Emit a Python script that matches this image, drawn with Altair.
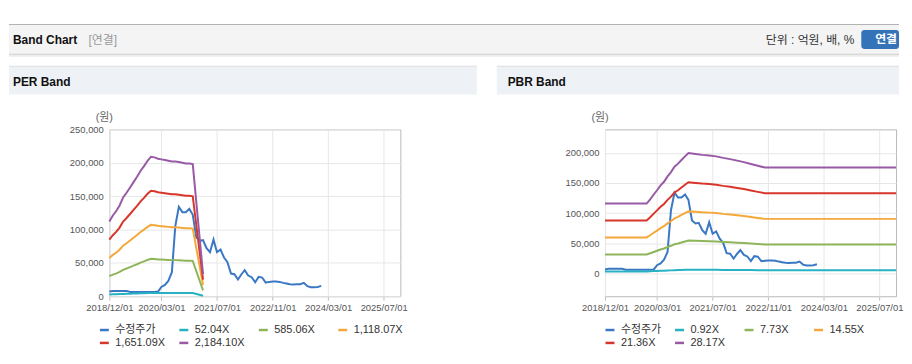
import altair as alt
import pandas as pd

FONT = "Liberation Sans, Noto Sans CJK KR, sans-serif"

# ---------------- data ----------------
price_dates = [
    "2018/12/01",
    "2019/01/01", "2019/02/01", "2019/03/01", "2019/04/01", "2019/05/01", "2019/06/01",
    "2019/07/01", "2019/08/01", "2019/09/01", "2019/10/01", "2019/11/01", "2019/12/01",
    "2020/01/01", "2020/02/01", "2020/03/01", "2020/04/01", "2020/05/01", "2020/06/01",
    "2020/07/01", "2020/08/01", "2020/09/01", "2020/10/01", "2020/11/01", "2020/12/01",
    "2021/01/01", "2021/02/01", "2021/03/01", "2021/04/01", "2021/05/01", "2021/06/01",
    "2021/07/01", "2021/08/01", "2021/09/01", "2021/10/01", "2021/11/01", "2021/12/01",
    "2022/01/01", "2022/02/01", "2022/03/01", "2022/04/01", "2022/05/01", "2022/06/01",
    "2022/07/01", "2022/08/01", "2022/09/01", "2022/10/01", "2022/11/01", "2022/12/01",
    "2023/01/01", "2023/02/01", "2023/03/01", "2023/04/01", "2023/05/01", "2023/06/01",
    "2023/07/01", "2023/08/01", "2023/09/01", "2023/10/01", "2023/11/01", "2023/12/01",
    "2024/01/01",
]
price = [
    7000, 8000, 8000, 8000, 8000, 8000, 6500, 6500, 6500, 6500, 6500, 6500, 6500, 6500, 7000,
    14000, 17000, 23000, 36000, 105000, 134000, 126000, 126000, 131000, 122000,
    88000, 83000, 84000, 72000, 66000, 85000, 66000, 70000, 58000, 51000, 34000, 33000,
    25000, 33000, 39000, 31000, 28500, 21000, 29000, 28000, 20500, 21500, 22000, 22000,
    21500, 20000, 19000, 18000, 17500, 18000, 18000, 20000, 15000, 13500, 13500, 14000, 15500,
]

per_dates = [
    "2018/12/01",
    "2019/01/01", "2019/02/01", "2019/03/01", "2019/04/01", "2019/05/01", "2019/06/01",
    "2019/07/01", "2019/08/01", "2019/09/01", "2019/10/01", "2019/11/01", "2019/12/01",
    "2020/01/01", "2020/02/01", "2020/03/01", "2020/04/01", "2020/05/01", "2020/06/01",
    "2020/07/01", "2020/08/01", "2020/09/01", "2020/10/01", "2020/11/01", "2020/12/01",
    "2021/03/01",
]
per_b1 = [2669, 2883, 3050, 3240, 3526, 3693, 3884, 4074, 4265, 4479, 4646, 4837, 4980,
          4956, 4908, 4885, 4861, 4837, 4813, 4813, 4789, 4765, 4742, 4742, 4718, 786]
per_b2 = [30002, 32413, 34288, 36431, 39645, 41520, 43663, 45806, 47949, 50360, 52235, 54378, 55985,
          55717, 55182, 54914, 54646, 54378, 54110, 54110, 53842, 53574, 53307, 53307, 53039, 8840]
per_b3 = [57334, 61942, 65525, 69620, 75763, 79347, 83442, 87537, 91633, 96240, 99823, 103919, 106990,
          106478, 105454, 104942, 104430, 103919, 103407, 103407, 102895, 102383, 101871, 101871, 101359, 16893]
per_b4 = [84667, 91471, 96763, 102810, 111882, 117174, 123221, 129269, 135317, 142120, 147412, 153460, 157995,
          157239, 155728, 154972, 154216, 153460, 152704, 152704, 151948, 151192, 150436, 150436, 149680, 24947]
per_b5 = [112000, 121000, 128000, 136000, 148000, 155000, 163000, 171000, 179000, 188000, 195000, 203000, 209000,
          208000, 206000, 205000, 204000, 203000, 202000, 202000, 201000, 200000, 199000, 199000, 198000, 33000]

pbr_dates = [
    "2018/12/01", "2019/12/01",
    "2020/01/01", "2020/02/01", "2020/03/01", "2020/04/01", "2020/05/01", "2020/06/01",
    "2020/07/01", "2020/08/01", "2020/09/01", "2020/10/01", "2020/11/01", "2020/12/01",
    "2021/02/01", "2021/04/01", "2021/06/01", "2021/08/01", "2021/10/01", "2021/12/01",
    "2022/02/01", "2022/04/01", "2022/06/01", "2022/08/01", "2022/10/01", "2025/11/24",
]
pbr_b1 = [3788, 3788, 4017, 4278, 4507, 4768, 4964, 5258, 5487, 5781, 5944, 6140, 6336, 6515,
          6467, 6417, 6385, 6336, 6254, 6189, 6107, 6026, 5928, 5830, 5732, 5732]
pbr_b2 = [31831, 31831, 33752, 35947, 37868, 40063, 41710, 44179, 46100, 48570, 49942, 51588, 53235, 54744,
          54332, 53921, 53646, 53235, 52549, 52000, 51314, 50628, 49805, 48981, 48158, 48158]
pbr_b3 = [59915, 59915, 63530, 67662, 71278, 75410, 78509, 83158, 86773, 91422, 94004, 97103, 100202, 103043,
          102268, 101494, 100977, 100202, 98911, 97878, 96587, 95296, 93746, 92197, 90647, 90647]
pbr_b4 = [87957, 87957, 93265, 99331, 104639, 110705, 115255, 122079, 127387, 134211, 138002, 142552, 147101, 151272,
          150134, 148997, 148239, 147101, 145206, 143689, 141794, 139898, 137623, 135348, 133074, 133074]
pbr_b5 = [116000, 116000, 123000, 131000, 138000, 146000, 152000, 161000, 168000, 177000, 182000, 188000, 194000, 199500,
          198000, 196500, 195500, 194000, 191500, 189500, 187000, 184500, 181500, 178500, 175500, 175500]

per_labels = ["수정주가", "52.04X", "585.06X", "1,118.07X", "1,651.09X", "2,184.10X"]
pbr_labels = ["수정주가", "0.92X", "7.73X", "14.55X", "21.36X", "28.17X"]
colors = ["#3a78c4", "#27b2c4", "#8fb55a", "#f5a83a", "#d8352b", "#985aa5"]

x_ticks = [(2018, 12), (2020, 3), (2021, 7), (2022, 11), (2024, 3), (2025, 7)]
per_yticks = [0, 50000, 100000, 150000, 200000, 250000]
pbr_yticks = [0, 50000, 100000, 150000, 200000]


def long_df(band_dates, bands, labels):
    rows = [{"date": d, "value": v, "series": labels[0]} for d, v in zip(price_dates, price)]
    for lab, b in zip(labels[1:], bands):
        rows += [{"date": d, "value": v, "series": lab} for d, v in zip(band_dates, b)]
    return pd.DataFrame(rows)


per_df = long_df(per_dates, [per_b1, per_b2, per_b3, per_b4, per_b5], per_labels)
pbr_df = long_df(pbr_dates, [pbr_b1, pbr_b2, pbr_b3, pbr_b4, pbr_b5], pbr_labels)

# ---------------- helpers ----------------
W, H = 293, 168
one = pd.DataFrame({"k": [0]})


def box(x, x2, y, y2, fill, opacity=1, radius=0):
    return alt.Chart(one).mark_rect(fill=fill, opacity=opacity, cornerRadius=radius).encode(
        x=alt.value(x), x2=alt.value(x2), y=alt.value(y), y2=alt.value(y2))


def label(x, y, text, size, color, weight="normal", align="left"):
    return alt.Chart(one).mark_text(
        text=text, fontSize=size, color=color, fontWeight=weight, align=align,
        baseline="middle", font=FONT).encode(x=alt.value(x), y=alt.value(y))


def lines(df, labels, ydomain, yticks, legend_x):
    xaxis = alt.Axis(
        values=[alt.DateTime(year=y, month=m, date=1) for y, m in x_ticks],
        format="%Y/%m/%d", title=None, labelFont=FONT, labelFontSize=9.5, labelColor="#555",
        tickSize=4, tickColor="#c0c0c0", domain=False, grid=True, gridColor="#e7e7e7",
        labelPadding=2, labelFlush=False, labelOverlap=False)
    yaxis = alt.Axis(
        values=yticks, format=",d", title=None, labelFont=FONT, labelFontSize=9.5, labelColor="#555",
        tickSize=0, domain=False, grid=True, gridColor="#e7e7e7", labelPadding=6, labelOverlap=False)
    return alt.Chart(df).mark_line(strokeWidth=2).encode(
        x=alt.X("date:T", axis=xaxis, scale=alt.Scale(
            domain=[alt.DateTime(year=2018, month=12, date=1), alt.DateTime(year=2025, month=11, date=24)])),
        y=alt.Y("value:Q", axis=yaxis, scale=alt.Scale(domain=ydomain, nice=False, zero=False)),
        color=alt.Color("series:N", sort=labels, scale=alt.Scale(domain=labels, range=colors),
                        legend=alt.Legend(
                            title=None, orient="none", legendX=legend_x, legendY=196,
                            direction="horizontal", columns=4, gridAlign="all",
                            symbolType="stroke", symbolSize=81, symbolStrokeWidth=2.5,
                            labelFont=FONT, labelFontSize=11, labelColor="#333",
                            labelOffset=5, columnPadding=8, rowPadding=2, padding=0,
                            labelLimit=200)),
    )


# ---------------- left panel (plot origin at page 109,128) ----------------
left_decor = [
    box(-101, 795, -120, 228, "white", opacity=0),          # overall extent
    box(-101, 795, -106, -105, "#b3b3b3"),
    box(-101, 795, -105, -76, "#f4f4f4"),
    box(-101, 795, -76, -75, "#c4c4c4"),
    box(-101, 795, -75, -73, "#ececec"),
    label(-97, -89.5, "Band Chart", 12, "#111", "bold"),
    label(-21, -89.5, "[연결]", 12, "#999"),
    label(750, -89.5, "단위 : 억원, 배, %", 12, "#333", align="right"),
    box(757, 795, -100, -81, "#3573b9", radius=3),
    label(782, -90.5, "연결", 12, "white", "bold", align="center"),
    box(-101, 370, -64, -63, "#d6d6d6"),
    box(-101, 370, -63, -35, "#eef2f7"),
    label(-97, -47.5, "PER Band", 12, "#111", "bold"),
    label(-5, -11, "(원)", 11, "#666", align="center"),
]
left = alt.layer(*left_decor, lines(per_df, per_labels, [0, 250000], per_yticks, -11)).properties(
    width=W, height=H)

# ---------------- right panel (plot origin at page 608,128) ----------------
right_decor = [
    box(-109, 296, -64, -63, "#d6d6d6"),
    box(-109, 296, -63, -35, "#eef2f7"),
    label(-98, -47.5, "PBR Band", 12, "#111", "bold"),
    label(-5, -11, "(원)", 11, "#666", align="center"),
]
right = alt.layer(*right_decor, lines(pbr_df, pbr_labels, [-37300, 238700], pbr_yticks, -1)).properties(
    width=W, height=H)

chart = alt.hconcat(left, right, spacing=206, bounds="flush").resolve_scale(
    color="independent", x="independent", y="independent"
).properties(
    padding={"left": 0, "top": 0, "right": 0, "bottom": 0}, background="white"
).configure_view(stroke="#b8b8b8", strokeWidth=1)

chart.save("out.html", embed_options={"renderer": "svg", "actions": False})
